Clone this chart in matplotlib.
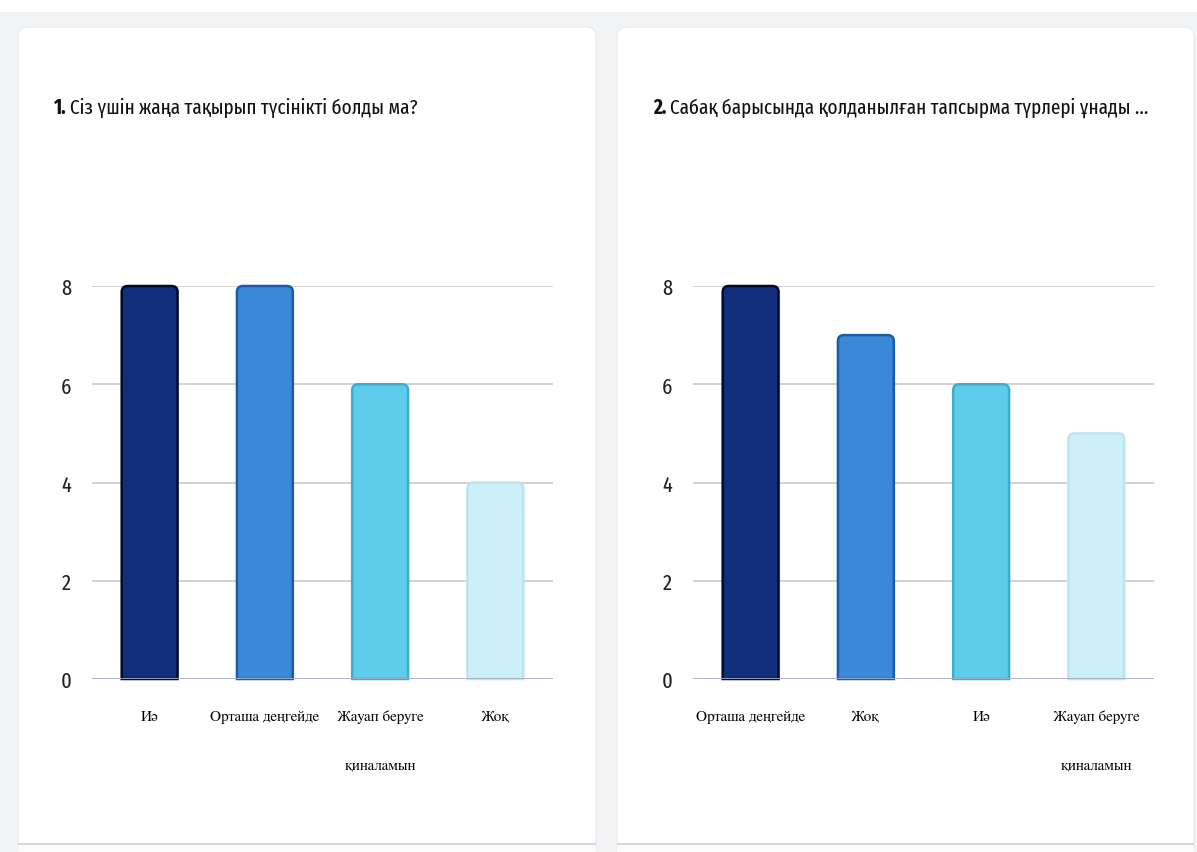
import matplotlib
matplotlib.use("Agg")
import matplotlib.pyplot as plt
from matplotlib.patches import FancyBboxPatch, Rectangle, PathPatch
from matplotlib.path import Path
from matplotlib.transforms import IdentityTransform

# ---- data ----
title1_num = "1."
title1_text = "Сіз үшін жаңа тақырып түсінікті болды ма?"
cats1 = ["Иә", "Орташа деңгейде", "Жауап беруге\nқиналамын", "Жоқ"]
vals1 = [8, 8, 6, 4]

title2_num = "2."
title2_text = "Сабақ барысында қолданылған тапсырма түрлері ұнады ..."
cats2 = ["Орташа деңгейде", "Жоқ", "Иә", "Жауап беруге\nқиналамын"]
vals2 = [8, 7, 6, 5]

yticks = [0, 2, 4, 6, 8]

face_cols = ["#112e7c", "#3a88d6", "#5ecdec", "#cdf0f8"]
edge_cols = ["#020a2a", "#1a5cab", "#3aaed0", "#bde4ee"]

sans = ["Fira Sans Extra Condensed", "DejaVu Sans"]
serif = ["FreeSerif", "Liberation Serif", "DejaVu Serif"]

W, H = 1197, 853
fig = plt.figure(figsize=(W / 100, H / 100), dpi=100)
fig.patch.set_facecolor("#f1f3f4")
ident = IdentityTransform()

# top white strip
fig.patches.append(Rectangle((0, H - 13), W, 13, transform=ident,
                             facecolor="white", edgecolor="none", zorder=-5))
# cards
for x0, x1 in [(18, 596), (617, 1194)]:
    fig.patches.append(FancyBboxPatch((x0, -30), x1 - x0, H - 28 + 30,
                                      boxstyle="round,pad=0,rounding_size=10",
                                      transform=ident, facecolor="white",
                                      edgecolor="#e8e9ec", linewidth=0.8,
                                      zorder=-5))
    fig.patches.append(Rectangle((x0, 0), x1 - x0, H - 845, transform=ident,
                                 facecolor="#fbfbfc", edgecolor="none",
                                 zorder=-4))
    fig.patches.append(Rectangle((x0, H - 846), x1 - x0, 2, transform=ident,
                                 facecolor="#d5d8df", edgecolor="none",
                                 zorder=-4))


def rounded_bar(ax, bar, fc, ec, r_px=6):
    x0 = bar.get_x()
    x1 = x0 + bar.get_width()
    h = bar.get_height()
    p0 = ax.transData.inverted().transform((0, 0))
    p1 = ax.transData.inverted().transform((r_px, r_px))
    rx, ry = abs(p1[0] - p0[0]), abs(p1[1] - p0[1])
    verts = [(x0, 0), (x0, h - ry), (x0, h), (x0 + rx, h), (x1 - rx, h),
             (x1, h), (x1, h - ry), (x1, 0), (x0, 0)]
    codes = [Path.MOVETO, Path.LINETO, Path.CURVE3, Path.CURVE3, Path.LINETO,
             Path.CURVE3, Path.CURVE3, Path.LINETO, Path.CLOSEPOLY]
    ax.add_patch(PathPatch(Path(verts, codes), facecolor=fc, edgecolor=ec,
                           linewidth=1.8, zorder=3, clip_on=False))


def draw_panel(left_px, cats, vals, num, text, title_x_px):
    ax = fig.add_axes([left_px / W, 1 - 680 / H, 461 / W, 393 / H])
    ax.set_facecolor("none")
    ax.set_xlim(-0.5, len(cats) - 0.5)
    ax.set_ylim(0, 8)
    bars = ax.bar(range(len(cats)), vals, width=0.485, color=face_cols)
    for b, fc, ec in zip(bars, face_cols, edge_cols):
        b.set_visible(False)
        rounded_bar(ax, b, fc, ec)
    for y in yticks[1:]:
        ax.axhline(y, color="#d2d2d2", linewidth=1.4, zorder=1)
    ax.axhline(0, color="#a9adc4", linewidth=2.0, zorder=4)
    for s in ax.spines.values():
        s.set_visible(False)
    ax.set_yticks(yticks)
    ax.set_yticklabels([str(t) for t in yticks], family=sans, fontsize=16,
                       color="#222222")
    ax.tick_params(axis="y", length=0, pad=15)
    ax.set_xticks(range(len(cats)))
    ax.set_xticklabels(cats, family=serif, fontsize=11, color="#000000",
                       linespacing=4.4, va="top")
    ax.tick_params(axis="x", length=0, pad=22)
    ty = 1 - 108 / H
    t1 = fig.text(title_x_px / W, ty, num, family=sans, fontweight="bold",
                  fontsize=15, va="center", ha="left", color="#111111")
    r = fig.canvas.get_renderer()
    bb = t1.get_window_extent(renderer=r)
    fig.text((bb.x1 + 4) / W, ty, text, family=sans, fontsize=15,
             va="center", ha="left", color="#111111")
    return ax


draw_panel(92, cats1, vals1, title1_num, title1_text, 53)
draw_panel(693, cats2, vals2, title2_num, title2_text, 653)

fig.savefig("out.png", dpi=100, facecolor=fig.get_facecolor())
